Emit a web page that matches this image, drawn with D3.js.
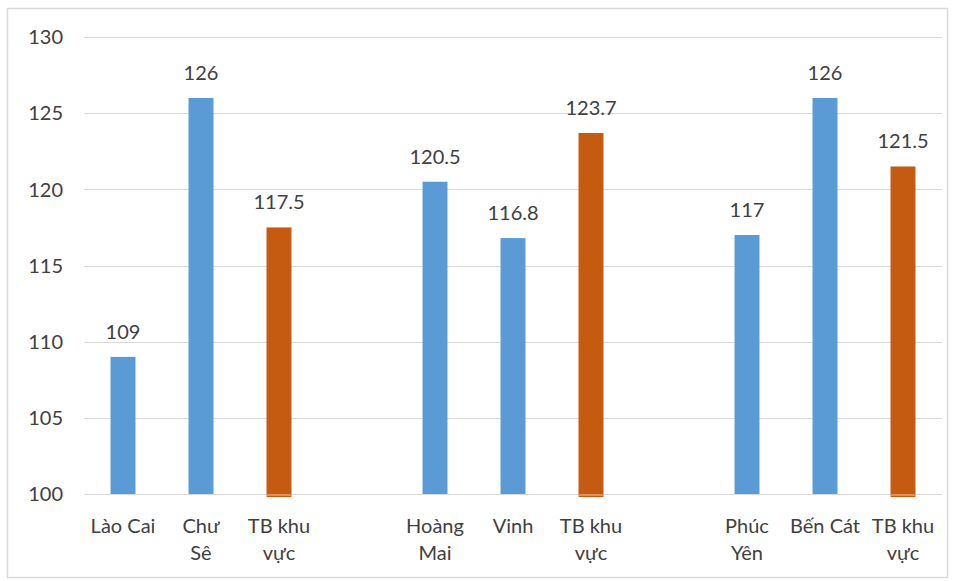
<!DOCTYPE html>
<html><head><meta charset="utf-8">
<script src="https://cdn.jsdelivr.net/npm/d3@7"></script>
<style>body{margin:0;background:#fff}svg{display:block}text{font-family:Lato,"Open Sans",sans-serif;fill:#404040}</style>
</head><body>
<script>
const categories = ["Lào Cai","Chư Sê","TB khu vực","","Hoàng Mai","Vinh","TB khu vực","","Phúc Yên","Bến Cát","TB khu vực"];
const labelLines = [["Lào Cai"],["Chư","Sê"],["TB khu","vực"],[],["Hoàng","Mai"],["Vinh"],["TB khu","vực"],[],["Phúc","Yên"],["Bến Cát"],["TB khu","vực"]];
const values = [109,126,117.5,null,120.5,116.8,123.7,null,117,126,121.5];
const kinds = ["site","site","avg",null,"site","site","avg",null,"site","site","avg"];
const yTicks = [100,105,110,115,120,125,130];

const W=956,H=581;
const svg=d3.select("body").append("svg").attr("width",W).attr("height",H);
svg.append("rect").attr("x",7.5).attr("y",8.5).attr("width",940).attr("height",569).attr("fill","#fff").attr("stroke","#d9d9d9").attr("stroke-width",1.5);

const x=d3.scaleBand().domain(d3.range(categories.length)).range([84,942]).paddingInner(0.68).paddingOuter(0.34);
const y=d3.scaleLinear().domain([100,130]).range([494,37]);

svg.append("g").selectAll("line").data(yTicks).join("line")
  .attr("x1",84).attr("x2",942).attr("y1",d=>Math.round(y(d))+0.5).attr("y2",d=>Math.round(y(d))+0.5)
  .attr("stroke","#d9d9d9").attr("stroke-width",1);
svg.append("g").selectAll("text").data(yTicks).join("text")
  .attr("x",63).attr("y",d=>y(d)).attr("dy","0.36em").attr("text-anchor","end")
  .attr("font-size",20).text(d=>d);

const data=values.map((v,i)=>({i,v,k:kinds[i]})).filter(d=>d.v!=null);
svg.append("g").selectAll("rect").data(data).join("rect")
  .attr("x",d=>x(d.i)).attr("width",x.bandwidth())
  .attr("y",d=>y(d.v)).attr("height",d=>y(100)-y(d.v)+(d.k==="avg"?3:0))
  .attr("fill",d=>d.k==="avg"?"#c55a11":"#5b9bd5");
svg.append("g").selectAll("line").data(data.filter(d=>d.k==="avg")).join("line")
  .attr("x1",d=>x(d.i)).attr("x2",d=>x(d.i)+x.bandwidth()).attr("y1",495).attr("y2",495)
  .attr("stroke","#f4c9a8").attr("stroke-width",1);
svg.append("g").selectAll("text").data(data).join("text")
  .attr("x",d=>x(d.i)+x.bandwidth()/2).attr("y",d=>y(d.v)-18).attr("text-anchor","middle")
  .attr("font-size",20).text(d=>d.v);

const lab=svg.append("g").selectAll("text").data(labelLines.map((l,i)=>({l,i}))).join("text")
  .attr("text-anchor","middle").attr("font-size",20);
lab.each(function(d){
  d3.select(this).selectAll("tspan").data(d.l).join("tspan")
    .attr("x",x(d.i)+x.bandwidth()/2).attr("y",(t,j)=>533+j*27).text(t=>t);
});
</script>
</body></html>
